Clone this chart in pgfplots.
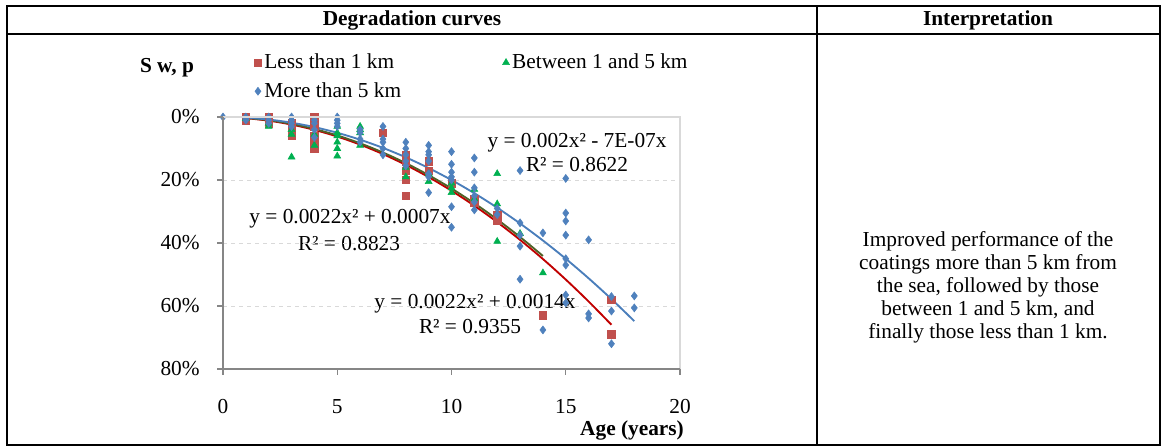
\documentclass[border=0pt]{standalone}
\usepackage{pgfplots}
\pgfplotsset{compat=1.18}
\usepackage{fontspec}
\setmainfont{Liberation Serif}
\definecolor{mred}{HTML}{C0504D}
\definecolor{mgreen}{HTML}{00B050}
\definecolor{mblue}{HTML}{4F81BD}
\definecolor{tred}{HTML}{C00000}
\definecolor{tgreen}{HTML}{4F6228}
\definecolor{tblue}{HTML}{4A7EBB}
\definecolor{axgray}{HTML}{868686}
\definecolor{gridgray}{HTML}{D9D9D9}
\begin{document}
\fontsize{16pt}{17.25pt}\selectfont
\begin{tikzpicture}
\begin{scope}[x=0.75pt,y=-0.75pt]
\draw[line width=1.1pt] (7,6) rectangle (1160,445);
\draw[line width=1.1pt] (7,34) -- (1160,34);
\draw[line width=1.1pt] (817,6) -- (817,445);
\node[font=\bfseries] at (412,20) {Degradation curves};
\node[font=\bfseries] at (988,20) {Interpretation};
\node[align=center] at (988,287) {Improved performance of the\\coatings more than 5 km from\\the sea, followed by those\\between 1 and 5 km, and\\finally those less than 1 km.};
\node[font=\bfseries] at (167,68) {S w, p};
\node[font=\bfseries] at (632,430) {Age (years)};
\node at (577,143) {y = 0.002x² - 7E-07x};
\node at (577,165) {R² = 0.8622};
\node at (350,219) {y = 0.0022x² + 0.0007x};
\node at (349,244) {R² = 0.8823};
\node at (475,304) {y = 0.0022x² + 0.0014x};
\node at (470,327) {R² = 0.9355};
\end{scope}
\begin{axis}[
  at={(167.25pt,-276.75pt)}, anchor=south west,
  scale only axis, width=342.75pt, height=189pt,
  xmin=0, xmax=20, ymin=0, ymax=80, y dir=reverse,
  clip=false,
  axis line style={draw=none},
  major tick length=0pt,
  xtick={0,5,...,20}, ytick={0,20,...,80},
  yticklabel={\pgfmathprintnumber{\tick}\%},
  /pgf/number format/assume math mode=true,
  tick label style={font=\fontsize{16pt}{17pt}\selectfont},
  yticklabel style={anchor=east, xshift=-12pt},
  xticklabel style={anchor=north, yshift=-17pt},
  ymajorgrids, major grid style={dashed, gridgray, line width=0.75pt},
  legend columns=2,
  legend cell align=left,
  legend style={at={(axis description cs:0.059,1.274)}, anchor=north west, draw=none, fill=none,
    font=\fontsize{16pt}{17pt}\selectfont, row sep=4pt,
    /tikz/every even column/.append style={column sep=74pt}},
  after end axis/.code={
    \draw[gridgray, line width=0.9pt] (axis cs:0,0) -- (axis cs:20,0) -- (axis cs:20,80);
    \draw[axgray, line width=1.2pt] (axis cs:0,0) -- (axis cs:0,80) -- (axis cs:20,80);
    \foreach \t in {0,20,40,60,80} {\draw[axgray, line width=1pt] (axis cs:0,\t) -- ++(-4.5pt,0);}
    \foreach \t in {0,5,10,15,20} {\draw[axgray, line width=1pt] (axis cs:\t,80) -- ++(0,-4.5pt);}
  },
]
\addplot[only marks, mark=square*, mark size=2.8pt, mark options={draw=mred, fill=mred}] coordinates {
(1,0)(1,1)(2,0)(2,2)(3,2)(3,4)(3,6)(4,0)(4,1)(4,3)(4,6)(4,8)(4,10)(7,5)(8,12)(8,14)(8,17)(8,20)(8,25)
(9,14)(9,17)(10,21)(11,26)(11,27)(12,31)(12,33)(14,63)(17,58)(17,69)};
\addlegendentry{Less than 1 km}
\addplot[only marks, mark=triangle*, mark size=3pt, mark options={draw=mgreen, fill=mgreen}] coordinates {
(1,0.5)(2,2)(2,3)(3,4)(3,5.5)(3,12.7)(4,5.5)(4,9)(5,3)(5,5)(5,6)(5,8)(5,10)(5,12.4)(6,3)(6,4)(6,5)(6,9)
(8,16)(8,19)(9,18)(9,20.5)(10,21)(10,22.5)(10,24)(11,23)(11,26)(12,18)(12,27.6)(12,39.5)(13,37)(14,49.5)};
\addlegendentry{Between 1 and 5 km}
\addplot[only marks, mark=diamond*, mark size=3pt, mark options={draw=mblue, fill=mblue}] coordinates {
(0,0)(1,0)(1,0.5)(1,1)(2,0)(2,1)(2,2)(3,0)(3,1)(3,2)(3,3)(4,1)(4,2)(4,4)(4,6.5)(5,0)(5,1)(5,2)(5,3)
(6,4)(6,5)(6,7)(6,8)(7,3)(7,7)(7,8)(7,10)(7,12)(8,8)(8,10)(8,12)(8,14)(8,15.5)
(9,9)(9,11)(9,12)(9,14)(9,18)(9,19)(9,24)(10,11)(10,15)(10,17.5)(10,19)(10,20)(10,28.5)(10,35)
(11,13)(11,17.5)(11,22.5)(11,25)(11,27)(11,29.5)(12,29)(12,31)(13,17)(13,33.6)(13,37.5)(13,41)(13,51.5)
(14,36.8)(14,67.6)(15,19.5)(15,30.5)(15,33)(15,37.5)(15,45)(15,47)(15,56.5)(15,59)
(16,39)(16,62.5)(16,63.8)(17,57)(17,61.6)(17,72)(18,56.8)(18,60.6)};
\addlegendentry{More than 5 km}
\addplot[tred, line width=1.4pt, smooth, forget plot] coordinates {
(1,0.36)(2,1.16)(3,2.40)(4,4.08)(5,6.2)(6,8.76)(7,11.76)(8,15.2)(9,19.08)(10,23.4)(11,28.16)(12,33.36)
(13,39.0)(14,45.08)(15,51.6)(16,58.56)(17,65.96)};
\addplot[tgreen, line width=1.4pt, smooth, forget plot] coordinates {
(1,0.29)(2,1.02)(3,2.19)(4,3.80)(5,5.85)(6,8.34)(7,11.27)(8,14.64)(9,18.45)(10,22.7)(11,27.39)(12,32.52)
(13,38.09)(14,44.10)};
\addplot[tblue, line width=1.4pt, smooth, forget plot] coordinates {
(1,0.2)(2,0.8)(3,1.8)(4,3.2)(5,5)(6,7.2)(7,9.8)(8,12.8)(9,16.2)(10,20)(11,24.2)(12,28.8)(13,33.8)
(14,39.2)(15,45)(16,51.2)(17,57.8)(18,64.8)};
\end{axis}
\pgfresetboundingbox
\path[use as bounding box] (0,0) rectangle (874.5pt,-336pt);
\end{tikzpicture}
\end{document}
